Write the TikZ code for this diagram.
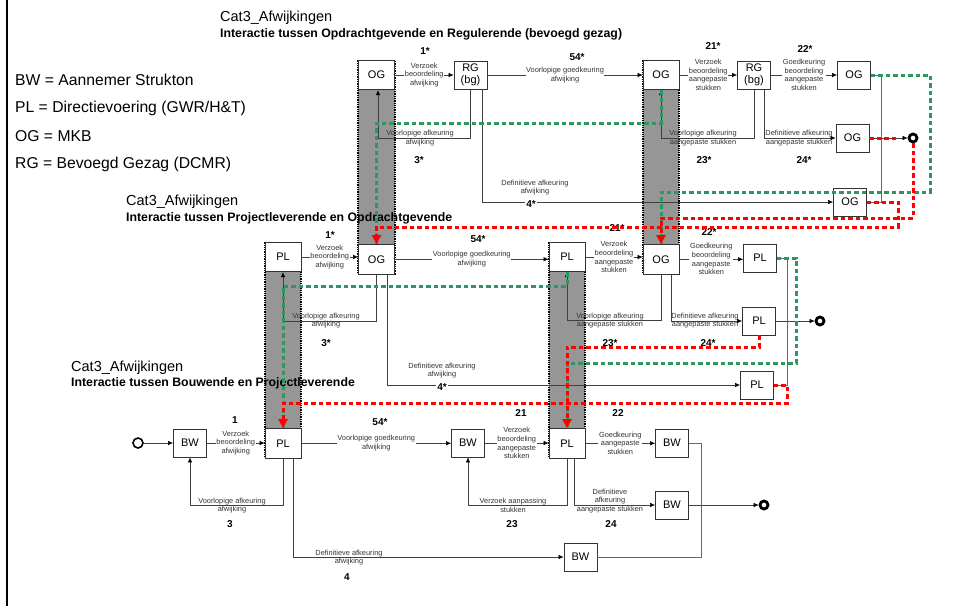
\documentclass[tikz,border=0pt]{standalone}
\usepackage{fontspec}
\setmainfont{Liberation Sans}
\usetikzlibrary{arrows.meta}
\definecolor{dgreen}{RGB}{46,150,96}
\definecolor{colgrey}{RGB}{150,150,150}
\begin{document}
\begin{tikzpicture}[x=1pt,y=-1pt,
  box/.style={draw=black!80,line width=0.8pt,fill=white,minimum width=33pt,minimum height=28pt,inner sep=0pt,align=center,font=\fontsize{11}{12}\selectfont},
  cbox/.style={box,minimum width=36pt,minimum height=29.5pt},
  column/.style={fill=colgrey,draw=black,line width=1.3pt,densely dotted},
  lbl/.style={font=\fontsize{7.4}{8.7}\selectfont,text=black!80,align=center,inner sep=0.6pt,fill=white},
  lblnf/.style={font=\fontsize{7.4}{8.7}\selectfont,text=black!80,align=center,inner sep=0.6pt},
  stepno/.style={font=\fontsize{10}{12}\selectfont\bfseries,inner sep=0.8pt},
  ttl/.style={anchor=west,inner sep=0pt,font=\fontsize{14.5}{16}\selectfont},
  sub/.style={anchor=west,inner sep=0pt,font=\fontsize{12.3}{14}\selectfont\bfseries},
  legend/.style={anchor=west,inner sep=0pt,font=\fontsize{15.7}{18}\selectfont},
  arr/.style={draw=black!75,line width=0.6pt,-{Latex[length=5pt,width=4.5pt,color=black]}},
  merge/.style={draw=black!60,line width=0.8pt},
  gpath/.style={draw=dgreen,line width=3pt,dash pattern=on 4.5pt off 3pt},
  rpath/.style={draw=red,line width=3pt,dash pattern=on 4.5pt off 3pt},
  rarr/.style={rpath,-{Triangle[length=9pt,width=9pt]}},
  startc/.style={circle,draw=black,line width=1.6pt,minimum size=10pt,inner sep=0pt},
  endc/.style={circle,draw=black,line width=2.8pt,minimum size=8pt,inner sep=0pt},
]
\useasboundingbox (0,0) rectangle (957,614);
\draw[line width=2pt] (7,0) -- (7,606);

% grey lanes
\path[column] (358,60.25) rectangle (395,274);
\path[column] (643,60.25) rectangle (679,274);
\path[column] (265,242.25) rectangle (301,458);
\path[column] (549,242.25) rectangle (585,458);

% legend
\node[legend] (lgBW) at (15,80) {BW = Aannemer Strukton};
\node[legend] (lgPL) at (15,108) {PL = Directievoering (GWR/H\&T)};
\node[legend] (lgOG) at (15,136) {OG = MKB};
\node[legend] (lgRG) at (15,164) {RG = Bevoegd Gezag (DCMR)};

% titles
\node[ttl] (t1) at (220,18) {Cat3\_Afwijkingen};
\node[sub] (s1) at (220,34) {Interactie tussen Opdrachtgevende en Regulerende (bevoegd gezag)};
\node[ttl] (t2) at (126,202) {Cat3\_Afwijkingen};
\node[sub] (s2) at (126,218) {Interactie tussen Projectleverende en Opdrachtgevende};
\node[ttl] (t3) at (71,368) {Cat3\_Afwijkingen};
\node[sub] (s3) at (71,383) {Interactie tussen Bouwende en Projectleverende};

% top boxes
\node[cbox] (og1) at (376.5,75) {OG};
\node[box] (rg1) at (470.5,75) {RG\\(bg)};
\node[cbox] (og2) at (661,75) {OG};
\node[box] (rg2) at (754,75) {RG\\(bg)};
\node[box] (og3) at (854,75) {OG};
\node[box] (og5) at (852.5,138) {OG};
\node[box] (og4) at (850,202) {OG};
\node[endc] (endA) at (913,138) {};

% middle boxes
\node[cbox] (plm1) at (283,257) {PL};
\node[cbox] (ogm1) at (376.5,259.25) {OG};
\node[cbox] (plm2) at (567,257) {PL};
\node[cbox] (ogm2) at (661,259.25) {OG};
\node[box] (plm3) at (760,258) {PL};
\node[box] (plm5) at (759,321) {PL};
\node[box] (plm4) at (757,385) {PL};
\node[endc] (endB) at (820,321) {};

% bottom boxes
\node[startc] (start) at (138,443) {};
\node[box] (bw1) at (190,443) {BW};
\node[cbox] (plb1) at (283,443.25) {PL};
\node[box] (bw2) at (468,443) {BW};
\node[cbox] (plb2) at (567,443.25) {PL};
\node[box] (bw3) at (672,443) {BW};
\node[box] (bw5) at (672,505) {BW};
\node[box] (bw4) at (580.5,557) {BW};
\node[endc] (endC) at (764,505) {};

% ---- top section connectors
\draw[arr] (og1) -- node[lbl]{Verzoek\\beoordeling\\afwijking} (rg1);
\draw[arr] (rg1) -- node[lbl]{Voorlopige goedkeuring\\afwijking} (og2);
\draw[arr] (og2) -- node[lbl]{Verzoek\\beoordeling\\aangepaste\\stukken} (rg2);
\draw[arr] (rg2) -- node[lbl]{Goedkeuring\\beoordeling\\aangepaste\\stukken} (og3);
\draw[arr] (rg1.south) |- (378,138) -- ([xshift=1.5pt]og1.south);
\node[lblnf] (l3t) at (420,138) {Voorlopige afkeuring\\afwijking};
\draw[arr] ([xshift=11.5pt]rg1.south) |- (og4.west);
\node[lblnf] (l4t) at (535,187.5) {Definitieve afkeuring\\afwijking};
\node[stepno,fill=white] (n4t) at (531,204) {4*};
\draw[arr] (rg2.south) |- (661,138) -- (og2.south);
\node[lblnf] (l23t) at (703,138) {Voorlopige afkeuring\\aangepaste stukken};
\draw[arr] ([xshift=10pt]rg2.south) |- (og5.west);
\node[lblnf] (l24t) at (799,138) {Definitieve afkeuring\\aangepaste stukken};
\draw[merge] (og3.east) -- (881,75) -- (881,202) -- (og4.east);
\draw[arr] (og5) -- (endA);
\node[stepno] (n1t) at (425,51) {1*};
\node[stepno] (n54t) at (577,57) {54*};
\node[stepno] (n21t) at (713,46) {21*};
\node[stepno] (n22t) at (805,49) {22*};
\node[stepno] (n3t) at (419,160) {3*};
\node[stepno] (n23t) at (704,160) {23*};
\node[stepno] (n24t) at (804,160) {24*};

% ---- middle section connectors
\draw[arr] (plm1.east) -- node[lbl]{Verzoek\\beoordeling\\afwijking} (plm1.east -| ogm1.west);
\draw[arr] (ogm1.east) -- node[lbl]{Voorlopige goedkeuring\\afwijking} (ogm1.east -| plm2.west);
\draw[arr] (plm2.east) -- node[lbl]{Verzoek\\beoordeling\\aangepaste\\stukken} (plm2.east -| ogm2.west);
\draw[arr] (ogm2.east) -- node[lbl]{Goedkeuring\\beoordeling\\aangepaste\\stukken} (ogm2.east -| plm3.west);
\draw[arr] (ogm1.south) |- (283,321) -- (plm1.south);
\node[lblnf] (l3m) at (326,320.5) {Voorlopige afkeuring\\afwijking};
\draw[arr] ([xshift=10.5pt]ogm1.south) |- (plm4.west);
\node[lblnf] (l4m) at (442,370.5) {Definitieve afkeuring\\afwijking};
\node[stepno,fill=white] (n4m) at (442,387.5) {4*};
\draw[arr] (ogm2.south) |- (567,320) -- (plm2.south);
\node[lblnf] (l23m) at (610,320.5) {Voorlopige afkeuring\\aangepaste stukken};
\draw[arr] ([xshift=10pt]ogm2.south) |- (plm5.west);
\node[lblnf] (l24m) at (705,320.5) {Definitieve afkeuring\\aangepaste stukken};
\draw[arr] (plm5) -- (endB);
\draw[merge] (plm3.east) -- (787,258) -- (787,385) -- (plm4.east);
\node[stepno] (n1m) at (330,235) {1*};
\node[stepno] (n54m) at (478,239) {54*};
\node[stepno] (n21m) at (617,228) {21*};
\node[stepno] (n22m) at (709,232) {22*};
\node[stepno] (n3m) at (326,343) {3*};
\node[stepno] (n23m) at (610,343) {23*};
\node[stepno] (n24m) at (708,343) {24*};

% ---- bottom section connectors
\draw[arr] (start) -- (bw1);
\draw[arr] (bw1.east) -- node[lbl]{Verzoek\\beoordeling\\afwijking} (bw1.east -| plb1.west);
\draw[arr] (plb1.east) -- node[lbl]{Voorlopige goedkeuring\\afwijking} (plb1.east -| bw2.west);
\draw[arr] (bw2.east) -- node[lbl]{Verzoek\\beoordeling\\aangepaste\\stukken} (bw2.east -| plb2.west);
\draw[arr] (plb2.east) -- node[lbl]{Goedkeuring\\aangepaste\\stukken} (plb2.east -| bw3.west);
\draw[arr] (plb1.south) |- (190,505) -- (bw1.south);
\node[lblnf] (l3b) at (232,505.5) {Voorlopige afkeuring\\afwijking};
\draw[arr] ([xshift=10pt]plb1.south) |- (bw4.west);
\node[lblnf] (l4b) at (349,557.5) {Definitieve afkeuring\\afwijking};
\draw[arr] (plb2.south) |- (468,505) -- (bw2.south);
\node[lblnf] (l23b) at (513,505.5) {Verzoek aanpassing\\stukken};
\draw[arr] ([xshift=7pt]plb2.south) |- (bw5.west);
\node[lblnf] (l24b) at (610,501) {Definitieve\\afkeuring\\aangepaste stukken};
\draw[arr] (bw5) -- (endC);
\draw[merge] (bw3.east) -- (701,443) -- (701,557) -- (bw4.east);
\node[stepno] (n1b) at (235,420) {1};
\node[stepno] (n54b) at (380,422) {54*};
\node[stepno] (n21b) at (521,413) {21};
\node[stepno] (n22b) at (618,413) {22};
\node[stepno] (n3b) at (230,524) {3};
\node[stepno] (n23b) at (512,524) {23};
\node[stepno] (n24b) at (611,524) {24};
\node[stepno] (n4b) at (347,577) {4};

% ---- green flows
\draw[gpath] (og3.east) -- (930,75) -- (930,192) -- (661,192) -- (ogm2.north);
\draw[gpath] (og2.south) -- (661,123) -- (376.5,123) -- (ogm1.north);
\draw[gpath] (plm3.east) -- (796,258) -- (796,363) -- (567,363) -- (plb2.north);
\draw[gpath] (plm2.south) -- (567,286) -- (283,286) -- (plb1.north);

% ---- red flows
\draw[rpath] (og5.east) -- (897,138);
\draw[rarr] (endA.south) -- (913,218) -- (661,218) -- (ogm2.north);
\draw[rarr] (og4.east) -- (898,202) -- (898,227) -- (376.5,227) -- (ogm1.north);
\draw[rarr] (plm5.south) -- (759,347) -- (567,347) -- (plb2.north);
\draw[rarr] (plm4.east) -- (787,385) -- (787,403) -- (283,403) -- (plb1.north);
\end{tikzpicture}
\end{document}
